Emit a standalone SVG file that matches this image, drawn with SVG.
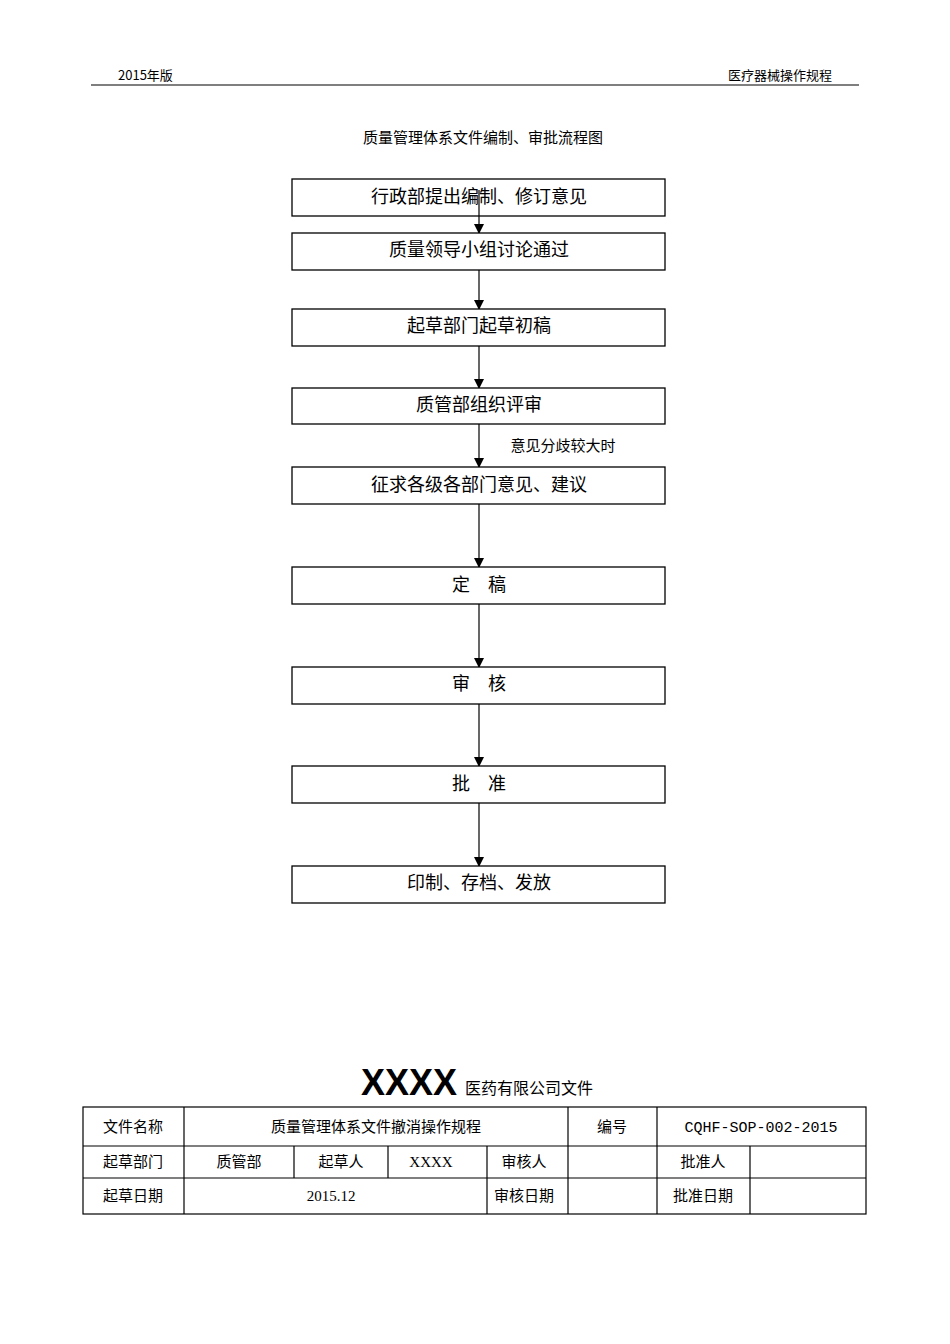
<svg xmlns="http://www.w3.org/2000/svg" width="950" height="1344" viewBox="0 0 950 1344">
<style>
text{font-family:"Noto Sans CJK SC","Liberation Serif",serif;fill:#000}
.b{fill:#fff;stroke:#000;stroke-width:1.3}
.t{font-size:18px;text-anchor:middle}
.c{font-size:15px;text-anchor:middle}
.l{stroke:#000;stroke-width:1.2;fill:none}
</style>
<defs><marker id="a" markerWidth="10" markerHeight="10" refX="9" refY="5" orient="auto" markerUnits="userSpaceOnUse"><path d="M0,0 L10,5 L0,10z" fill="#000"/></marker></defs>
<rect width="950" height="1344" fill="#fff"/>
<text x="118" y="80" font-size="13">2015年版</text>
<text x="832" y="80" font-size="13" text-anchor="end">医疗器械操作规程</text>
<line x1="91" y1="85" x2="859" y2="85" stroke="#000" stroke-width="1.2"/>
<text x="483" y="143" class="c">质量管理体系文件编制、审批流程图</text>
<g id="connectors">
<line class="l" x1="479" y1="190" x2="479" y2="233" marker-end="url(#a)"/>
<line class="l" x1="479" y1="270" x2="479" y2="309" marker-end="url(#a)"/>
<line class="l" x1="479" y1="346" x2="479" y2="388" marker-end="url(#a)"/>
<line class="l" x1="479" y1="424" x2="479" y2="467" marker-end="url(#a)"/>
<line class="l" x1="479" y1="504" x2="479" y2="567" marker-end="url(#a)"/>
<line class="l" x1="479" y1="604" x2="479" y2="667" marker-end="url(#a)"/>
<line class="l" x1="479" y1="704" x2="479" y2="766" marker-end="url(#a)"/>
<line class="l" x1="479" y1="803" x2="479" y2="866" marker-end="url(#a)"/>
<text x="563" y="451" class="c">意见分歧较大时</text>
</g>
<g id="n1"><rect class="b" x="292" y="179" width="373" height="37" fill-opacity="0"/><text x="479" y="203" class="t">行政部提出编制、修订意见</text></g>
<g id="n2"><rect class="b" x="292" y="233" width="373" height="37"/><text x="479" y="256" class="t">质量领导小组讨论通过</text></g>
<g id="n3"><rect class="b" x="292" y="309" width="373" height="37"/><text x="479" y="332" class="t">起草部门起草初稿</text></g>
<g id="n4"><rect class="b" x="292" y="388" width="373" height="36"/><text x="479" y="411" class="t">质管部组织评审</text></g>
<g id="n5"><rect class="b" x="292" y="467" width="373" height="37"/><text x="479" y="491" class="t">征求各级各部门意见、建议</text></g>
<g id="n6"><rect class="b" x="292" y="567" width="373" height="37"/><text x="479" y="591" class="t">定　稿</text></g>
<g id="n7"><rect class="b" x="292" y="667" width="373" height="37"/><text x="479" y="690" class="t">审　核</text></g>
<g id="n8"><rect class="b" x="292" y="766" width="373" height="37"/><text x="479" y="790" class="t">批　准</text></g>
<g id="n9"><rect class="b" x="292" y="866" width="373" height="37"/><text x="479" y="889" class="t">印制、存档、发放</text></g>
<text x="457" y="1095" font-size="36" font-weight="bold" text-anchor="end" style="font-family:'Liberation Sans',sans-serif">XXXX</text>
<text x="465" y="1094" font-size="16">医药有限公司文件</text>
<g id="table" stroke="#000" stroke-width="1.2" fill="none">
<rect x="83" y="1107" width="783" height="107"/>
<line x1="83" y1="1146" x2="866" y2="1146"/><line x1="83" y1="1178" x2="866" y2="1178"/>
<line x1="184" y1="1107" x2="184" y2="1214"/><line x1="568" y1="1107" x2="568" y2="1214"/><line x1="657" y1="1107" x2="657" y2="1214"/>
<line x1="750" y1="1146" x2="750" y2="1214"/><line x1="487" y1="1146" x2="487" y2="1214"/>
<line x1="294" y1="1146" x2="294" y2="1178"/><line x1="388" y1="1146" x2="388" y2="1178"/>
</g>
<g class="c">
<text x="133" y="1132" class="c">文件名称</text><text x="376" y="1132" class="c">质量管理体系文件撤消操作规程</text><text x="612" y="1132" class="c">编号</text><text x="761" y="1132" class="c" style="font-family:'Liberation Mono',monospace">CQHF-SOP-002-2015</text>
<text x="133" y="1167" class="c">起草部门</text><text x="239" y="1167" class="c">质管部</text><text x="341" y="1167" class="c">起草人</text><text x="431" y="1167" class="c" style="font-family:'Liberation Serif',serif">XXXX</text><text x="524" y="1167" class="c">审核人</text><text x="703" y="1167" class="c">批准人</text>
<text x="133" y="1201" class="c">起草日期</text><text x="331" y="1201" class="c" style="font-family:'Liberation Serif',serif">2015.12</text><text x="524" y="1201" class="c">审核日期</text><text x="703" y="1201" class="c">批准日期</text>
</g>
</svg>
